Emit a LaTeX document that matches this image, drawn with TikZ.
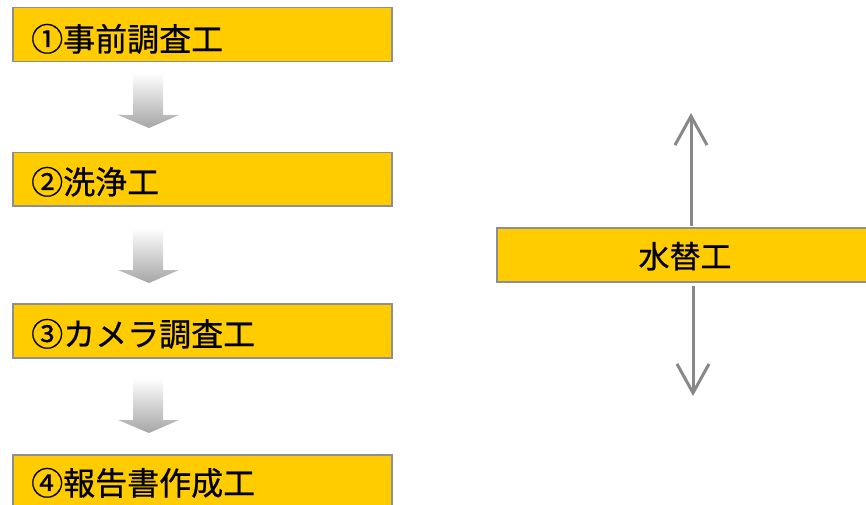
\documentclass[tikz,border=0pt]{standalone}
\usepackage{fontspec}
\newfontfamily\cjk[FakeBold=0.6]{Noto Sans CJK JP}
\usetikzlibrary{arrows.meta,calc}
\definecolor{boxyellow}{HTML}{FFCC00}
\definecolor{boxedge}{HTML}{8F8F8F}
\definecolor{arrowgray}{HTML}{888888}
\begin{document}
\begin{tikzpicture}[x=1pt,y=-1pt,
  stepbox/.style={draw=boxedge, line width=1.5pt, fill=boxyellow, rectangle, anchor=north west, inner sep=0pt, minimum width=379pt, minimum height=54pt},
  steptext/.style={anchor=base west, inner sep=0pt, font=\cjk\fontsize{32}{36}\selectfont},
  flowarrow/.style={top color=white, bottom color=black!35, draw=none},
  vline/.style={draw=arrowgray, line width=3pt, -{Straight Barb[length=29pt,width=32pt]}}]
\useasboundingbox (0,0) rectangle (866,505);
% left column boxes
\node[stepbox] (b1) at (12,7) {};
\node[stepbox, minimum height=53pt] (b2) at (12,152) {};
\node[stepbox] (b3) at (12,303) {};
\node[stepbox] (b4) at (12,454) {};
\node[steptext] (t1) at (31,51) {①事前調査工};
\node[steptext] (t2) at (31,194) {②洗浄工};
\node[steptext] (t3) at (31,346) {③カメラ調査工};
\node[steptext] (t4) at (31,495) {④報告書作成工};
% block arrows
\foreach \a/\b in {b1/73,b2/228,b3/378}{
  \shade[flowarrow] (133,\b) -- (163,\b) -- (163,\b+42) -- (179,\b+42) -- (149,\b+55) -- (118,\b+42) -- (133,\b+42) -- cycle;
}
% right box
\node[stepbox, minimum width=372pt] (w) at (496,227) {};
\node[anchor=base, inner sep=0pt, font=\cjk\fontsize{31}{36}\selectfont] (wt) at (685,268) {水替工};
\coordinate (upend) at (691,113);
\coordinate (downend) at (693,396);
\draw[vline] ($(w.north west)+(195,-1)$) -- (upend);
\draw[vline] ($(w.south west)+(197,3)$) -- (downend);
\end{tikzpicture}
\end{document}
